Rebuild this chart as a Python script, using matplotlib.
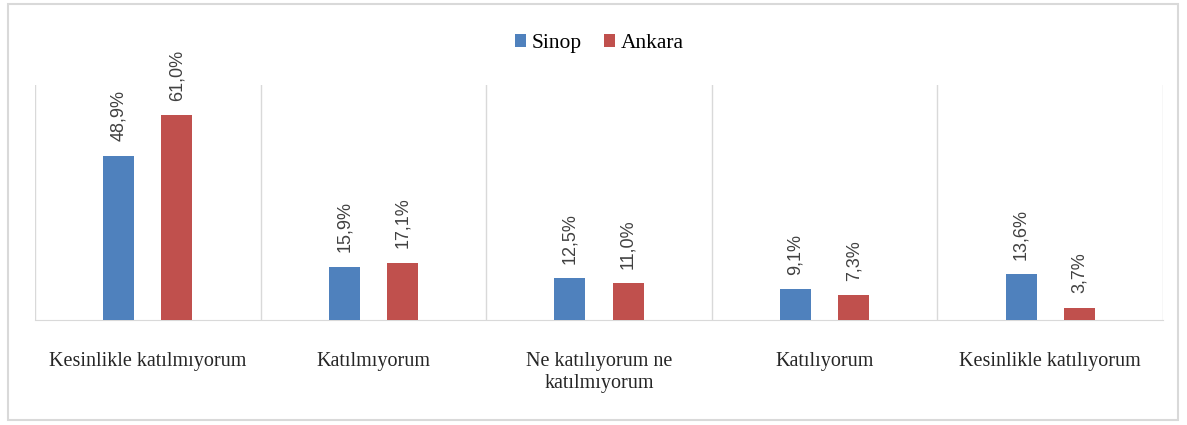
import matplotlib.pyplot as plt
from matplotlib.patches import Rectangle
import numpy as np

categories = ["Kesinlikle katılmıyorum", "Katılmıyorum", "Ne katılıyorum ne\nkatılmıyorum",
              "Katılıyorum", "Kesinlikle katılıyorum"]
sinop = [48.9, 15.9, 12.5, 9.1, 13.6]
ankara = [61.0, 17.1, 11.0, 7.3, 3.7]

blue = "#4f81bd"
red = "#c0504d"
grid = "#d9d9d9"

fig = plt.figure(figsize=(11.87, 4.25), dpi=100)
fig.patches.append(Rectangle((8 / 1187, 5 / 425), 1170 / 1187, 416 / 425, transform=fig.transFigure,
                             fill=False, edgecolor="#d9d9d9", linewidth=1.5))
ax = fig.add_axes([35 / 1187, 105 / 425, 1128 / 1187, 235 / 425])

x = np.arange(len(categories))
w = 0.138
off = 0.129
b1 = ax.bar(x - off, sinop, w, color=blue, label="Sinop", zorder=3)
b2 = ax.bar(x + off, ankara, w, color=red, label="Ankara", zorder=3)

for bars, vals in ((b1, sinop), (b2, ankara)):
    for rect, v in zip(bars, vals):
        ax.text(rect.get_x() + rect.get_width() / 2, v + 4.3, f"{v:.1f}%".replace(".", ","),
                rotation=90, ha="center", va="bottom", fontsize=13, color="#404040",
                family="Liberation Sans")

ax.set_xlim(-0.5, len(categories) - 0.5)
ax.set_ylim(0, 70)
ax.set_yticks([])
ax.set_xticks(x)
ax.set_xticklabels(categories, fontsize=14.5, family="Liberation Serif", color="#262626", linespacing=1.2)
ax.tick_params(axis="x", length=0, pad=23)
ax.set_xticks(np.arange(-0.5, len(categories)), minor=True)
ax.tick_params(axis="x", which="minor", length=0)
ax.grid(True, which="minor", axis="x", color=grid, linewidth=1)
for s in ("top", "left", "right"):
    ax.spines[s].set_visible(False)
ax.spines["bottom"].set_color(grid)

fig.legend(loc="upper center", bbox_to_anchor=(0.505, 0.965), ncol=2, frameon=False,
           prop={"family": "Liberation Serif", "size": 15.5}, handlelength=0.5, handleheight=0.5,
           handletextpad=0.3, columnspacing=1.0)

fig.savefig("out.png", dpi=100)
